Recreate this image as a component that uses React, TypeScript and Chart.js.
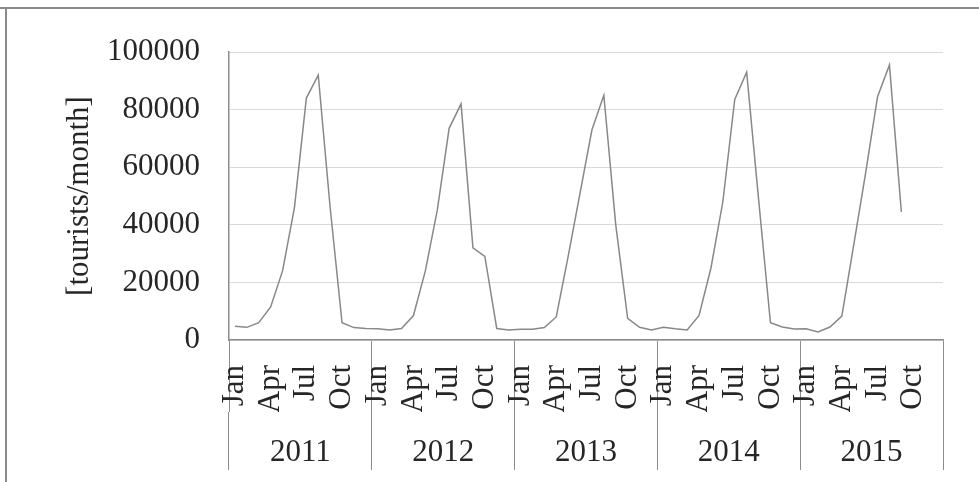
import React, { useEffect, useRef } from "react";
import { Chart, registerables } from "chart.js";

Chart.register(...registerables);

const MONTHS = ["Jan", "Feb", "Mar", "Apr", "May", "Jun", "Jul", "Aug", "Sep", "Oct", "Nov", "Dec"];
const YEARS = ["2011", "2012", "2013", "2014", "2015"];

const T2011 = [4800, 4400, 6000, 11500, 24000, 46000, 84000, 92000, 46000, 6000, 4300, 4000];
const T2012 = [3900, 3500, 4000, 8500, 24000, 45000, 73500, 82000, 32000, 29000, 4000, 3500];
const T2013 = [3700, 3700, 4300, 8000, 29000, 51000, 73000, 85000, 40000, 7500, 4400, 3500];
const T2014 = [4400, 3900, 3500, 8500, 25000, 48000, 83500, 93000, 49000, 6000, 4500, 3800];
const T2015 = [3900, 2800, 4500, 8300, 33000, 58000, 84500, 95500, 44500, null, null, null];

const Y_MIN = 0;
const Y_MAX = 100000;
const Y_STEP = 20000;

const FONT = "'Liberation Serif', 'Times New Roman', serif";
const TEXT = "#262626";
const AXIS = "#8c8c8c";

const frame = {
  id: "frame",
  beforeDraw(chart: any) {
    const { ctx, width, height } = chart;
    ctx.save();
    ctx.fillStyle = "#ffffff";
    ctx.fillRect(0, 0, width, height);
    ctx.strokeStyle = "#8a8a8a";
    ctx.lineWidth = 2;
    ctx.beginPath();
    ctx.moveTo(0, 8);
    ctx.lineTo(width, 8);
    ctx.moveTo(6, 8);
    ctx.lineTo(6, height);
    ctx.stroke();
    ctx.restore();
  },
};

export default function App() {
  const ref = useRef<HTMLCanvasElement | null>(null);

  useEffect(() => {
    if (!ref.current) return;
    const labels: string[] = [];
    YEARS.forEach((y) => MONTHS.forEach((m) => labels.push(m + " " + y)));
    const values = [...T2011, ...T2012, ...T2013, ...T2014, ...T2015];

    const chart = new Chart(ref.current, {
      type: "line",
      data: {
        labels,
        datasets: [
          {
            label: "tourists",
            data: values,
            borderColor: "#888888",
            borderWidth: 1.5,
            pointRadius: 0,
            tension: 0,
            spanGaps: false,
            fill: false,
          },
        ],
      },
      plugins: [frame],
      options: {
        responsive: false,
        animation: false,
        events: [],
        layout: { padding: { left: 0, top: 52, right: 36, bottom: 12 } },
        plugins: { legend: { display: false }, tooltip: { enabled: false } },
        scales: {
          x: {
            type: "category",
            position: "bottom",
            weight: 0,
            offset: true,
            afterFit: (s: any) => {
              s.height = 72;
            },
            grid: {
              offset: true,
              drawOnChartArea: false,
              drawTicks: true,
              tickLength: 72,
              lineWidth: 1,
              color: (ctx: any) =>
                ctx.index === undefined || ctx.index % 12 === 0 ? AXIS : "rgba(0,0,0,0)",
            },
            border: { display: true, color: AXIS, width: 1.5 },
            ticks: {
              autoSkip: false,
              minRotation: 90,
              maxRotation: 90,
              padding: -47,
              color: TEXT,
              font: { family: FONT, size: 31 },
              callback: (_v: any, i: number) => (i % 3 === 0 ? MONTHS[i % 12] : ""),
            },
          },
          x2: {
            type: "category",
            position: "bottom",
            weight: 1,
            labels: YEARS,
            offset: true,
            afterFit: (s: any) => {
              s.height = 58;
            },
            grid: {
              offset: true,
              drawOnChartArea: false,
              drawTicks: true,
              tickLength: 58,
              lineWidth: 1,
              color: AXIS,
            },
            border: { display: false },
            ticks: {
              autoSkip: false,
              maxRotation: 0,
              padding: -36,
              color: TEXT,
              font: { family: FONT, size: 31 },
            },
          },
          y: {
            min: Y_MIN,
            max: Y_MAX,
            afterFit: (s: any) => {
              s.width = 229;
            },
            grid: { color: "#d9d9d9", lineWidth: 1, drawTicks: false },
            border: { display: true, color: AXIS, width: 1.5 },
            ticks: {
              stepSize: Y_STEP,
              padding: 29,
              color: TEXT,
              font: { family: FONT, size: 31 },
              callback: (v: any) => String(v),
            },
            title: {
              display: true,
              text: "[tourists/month]",
              color: TEXT,
              padding: { top: 61, bottom: 0 },
              font: { family: FONT, size: 31 },
            },
          },
        },
      },
    });
    return () => chart.destroy();
  }, []);

  return (
    <canvas
      ref={ref}
      width={979}
      height={482}
      style={{ position: "fixed", left: 0, top: 0, display: "block" }}
    />
  );
}
